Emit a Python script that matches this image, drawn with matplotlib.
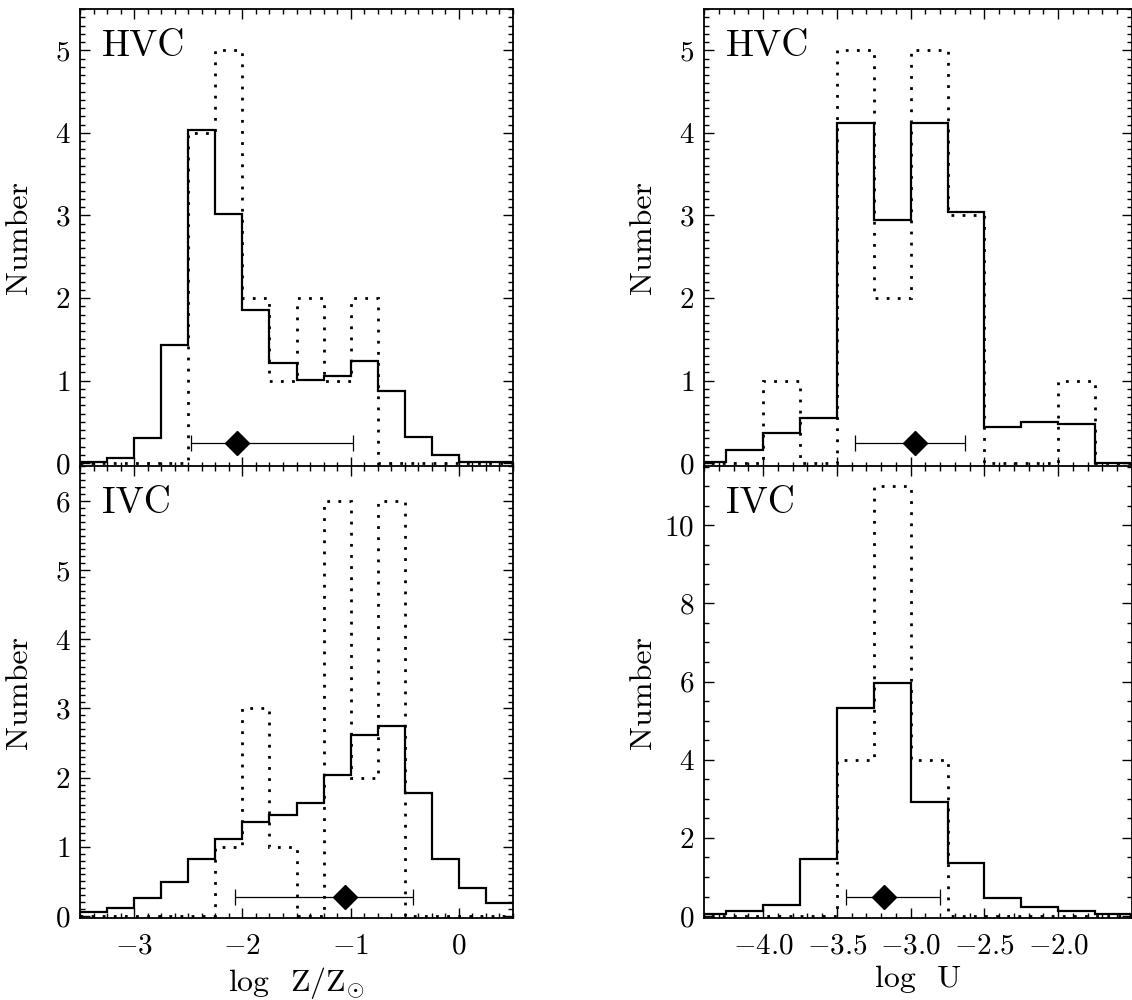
import numpy as np
import matplotlib
matplotlib.use("Agg")
import matplotlib.pyplot as plt
from matplotlib.ticker import MultipleLocator

plt.rcParams["font.family"] = "serif"
plt.rcParams["font.serif"] = ["cmr10"]
plt.rcParams["mathtext.fontset"] = "cm"
plt.rcParams["axes.formatter.use_mathtext"] = True

# bin edges (log Z/Zsun and log U)
z_edges = np.arange(-3.5, 0.51, 0.25)
u_edges = np.arange(-4.5, -1.49, 0.25)

# HVC metallicity
hvc_z_model = [0.02, 0.06, 0.30, 1.43, 4.04, 3.02, 1.85, 1.21, 1.01, 1.05, 1.24, 0.87, 0.32, 0.10, 0.02, 0.01]
hvc_z_count = [0, 0, 0, 0, 4, 5, 2, 1, 2, 1, 2, 0, 0, 0, 0, 0]
# IVC metallicity
ivc_z_model = [0.05, 0.12, 0.26, 0.49, 0.82, 1.11, 1.36, 1.46, 1.63, 2.04, 2.61, 2.74, 1.78, 0.82, 0.40, 0.18]
ivc_z_count = [0, 0, 0, 0, 0, 1, 3, 1, 0, 6, 2, 6, 0, 0, 0, 0]
# HVC ionization parameter
hvc_u_model = [0.01, 0.16, 0.37, 0.55, 4.12, 2.95, 4.12, 3.04, 0.44, 0.50, 0.47, 0.0]
hvc_u_count = [0, 0, 1, 0, 5, 2, 5, 3, 0, 0, 1, 0]
# IVC ionization parameter
ivc_u_model = [0.05, 0.12, 0.28, 1.46, 5.32, 5.97, 2.92, 1.35, 0.45, 0.22, 0.12, 0.05]
ivc_u_count = [0, 0, 0, 0, 4, 11, 4, 0, 0, 0, 0, 0]

# mean value and range markers: (x, y, lower, upper)
hvc_z_mean = (-2.05, 0.25, -2.47, -0.98)
ivc_z_mean = (-1.05, 0.27, -2.07, -0.42)
hvc_u_mean = (-2.97, 0.24, -3.38, -2.63)
ivc_u_mean = (-3.18, 0.50, -3.44, -2.80)

u_ticks = [-4.0, -3.5, -3.0, -2.5, -2.0]
u_ticklabels = [r"$-4.0$", r"$-3.5$", r"$-3.0$", r"$-2.5$", r"$-2.0$"]

fig = plt.figure(figsize=(11.32, 10), dpi=100)

W = 1132.0
H = 1000.0
top_y, mid_y, bot_y = 9, 466.5, 918
lx, lw = 80, 433
rx, rw = 704, 428


def box(x, w, y0, y1):
    return [x / W, 1 - y1 / H, w / W, (y1 - y0) / H]


ax_tl = fig.add_axes(box(lx, lw, top_y, mid_y))
ax_bl = fig.add_axes(box(lx, lw, mid_y, bot_y))
ax_tr = fig.add_axes(box(rx, rw, top_y, mid_y))
ax_br = fig.add_axes(box(rx, rw, mid_y, bot_y))


def panel(ax, edges, model, count, mean, label, ylim, xlim, ymajor, yminor, xmajor, xminor, width):
    ax.stairs(model, edges, baseline=None, color="black", lw=1.6)
    ax.stairs(count, edges, baseline=0, color="black", lw=2.0, linestyle=(0, (1, 3)))
    x, y, lo, hi = mean
    ax.errorbar([x], [y], xerr=[[x - lo], [hi - x]], fmt="D", color="black",
                ms=12, elinewidth=0.9, capsize=6, capthick=0.9)
    ax.set_xlim(*xlim)
    ax.set_ylim(*ylim)
    ax.xaxis.set_major_locator(MultipleLocator(xmajor))
    ax.xaxis.set_minor_locator(MultipleLocator(xminor))
    ax.yaxis.set_major_locator(MultipleLocator(ymajor))
    ax.yaxis.set_minor_locator(MultipleLocator(yminor))
    ax.tick_params(which="both", direction="in", top=True, right=True, width=1.0)
    ax.tick_params(which="major", length=7)
    ax.tick_params(which="minor", length=3.5)
    ax.tick_params(axis="y", pad=7, labelsize=21)
    ax.tick_params(axis="x", pad=11, labelsize=21)
    for s in ax.spines.values():
        s.set_linewidth(1.3)
    ax.set_ylabel("Number", fontsize=23)
    ax.yaxis.set_label_coords(-47.0 / width, 0.5)
    ax.text(22.0 / width, 0.955, label, transform=ax.transAxes, fontsize=27,
            ha="left", va="top")


panel(ax_tl, z_edges, hvc_z_model, hvc_z_count, hvc_z_mean, "HVC",
      (-0.04, 5.5), (-3.5, 0.5), 1, 0.1, 1, 0.125, lw)
panel(ax_bl, z_edges, ivc_z_model, ivc_z_count, ivc_z_mean, "IVC",
      (-0.03, 6.5), (-3.5, 0.5), 1, 0.1, 1, 0.125, lw)
panel(ax_tr, u_edges, hvc_u_model, hvc_u_count, hvc_u_mean, "HVC",
      (-0.04, 5.5), (-4.4, -1.5), 1, 0.1, 0.5, 0.1, rw)
panel(ax_br, u_edges, ivc_u_model, ivc_u_count, ivc_u_mean, "IVC",
      (-0.05, 11.5), (-4.4, -1.5), 2, 0.5, 0.5, 0.1, rw)

ax_tl.tick_params(axis="x", labelbottom=False)
ax_tr.tick_params(axis="x", labelbottom=False)
ax_tr.set_xticks(u_ticks)
ax_br.set_xticks(u_ticks)
ax_br.set_xticklabels(u_ticklabels)
ax_bl.set_xlabel(r"log  Z/Z$_{\odot}$", fontsize=23, labelpad=4)
ax_br.set_xlabel("log  U", fontsize=23, labelpad=4)

fig.savefig("out.png", dpi=100)
